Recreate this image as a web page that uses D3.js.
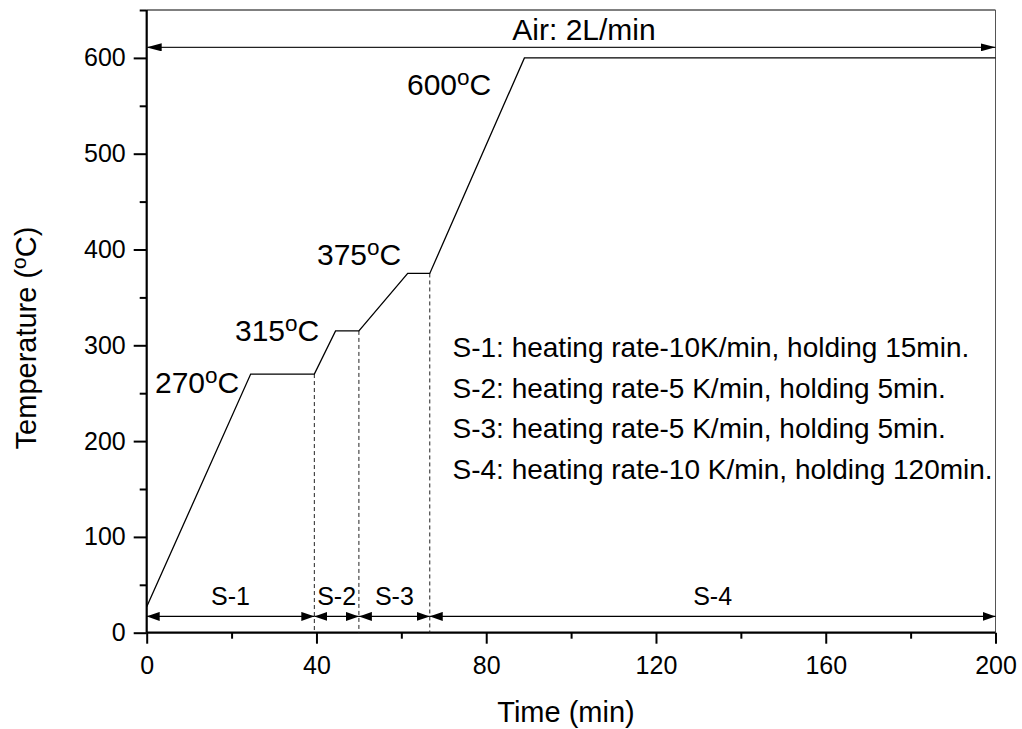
<!DOCTYPE html>
<html>
<head>
<meta charset="utf-8">
<script src="https://cdn.jsdelivr.net/npm/d3@7"></script>
<style>
  html, body { margin: 0; padding: 0; background: #fff; }
  svg { display: block; font-family: "Liberation Sans", Arial, sans-serif; }
</style>
</head>
<body>
<svg id="chart" width="1022" height="729"></svg>
<script>
// Heating programme: time (min) vs furnace temperature (°C)
const timeMin = [0, 24.5, 39.5, 44.5, 50, 61.5, 66.7, 89, 200];
const tempC   = [27, 270, 270, 315, 315, 375, 375, 600, 600];

// Stage boundaries (min) and names
const stageEdges = [0, 39.5, 50, 66.7, 200];
const stageNames = ["S-1", "S-2", "S-3", "S-4"];
const stageArrowTemp = 17;

// Dashed markers at the end of each hold
const holdEnds = [39.5, 50, 66.7];
const holdTemps = [270, 315, 375];

// Plateau labels
const plateauLabels = ["270", "315", "375", "600"];
const plateauLabelX = [155, 235, 317, 407];
const plateauLabelY = [393, 341, 265, 95];

// Gas-flow annotation
const airText = "Air: 2L/min";
const airTemp = 611;

// Stage descriptions
const stageNotes = [
  "S-1: heating rate-10K/min, holding 15min.",
  "S-2: heating rate-5 K/min, holding 5min.",
  "S-3: heating rate-5 K/min, holding 5min.",
  "S-4: heating rate-10 K/min, holding 120min."
];

const xTicks = [0, 40, 80, 120, 160, 200];
const xMinor = [20, 60, 100, 140, 180];
const yTicks = [0, 100, 200, 300, 400, 500, 600];
const yMinor = [50, 150, 250, 350, 450, 550, 650];

const svg = d3.select("#chart");
const x = d3.scaleLinear().domain([0, 200]).range([146.7, 995.5]);
const y = d3.scaleLinear().domain([0, 650]).range([632.7, 10]);

// Arrowhead markers
const defs = svg.append("defs");
function addMarker(id, len, half) {
  defs.append("marker")
    .attr("id", id)
    .attr("markerUnits", "userSpaceOnUse")
    .attr("viewBox", `0 ${-half} ${len} ${2 * half}`)
    .attr("refX", len).attr("refY", 0)
    .attr("markerWidth", len).attr("markerHeight", 2 * half)
    .attr("orient", "auto-start-reverse")
    .append("path")
    .attr("d", `M0,${-half}L${len},0L0,${half}Z`)
    .attr("fill", "#000");
}
addMarker("headSmall", 13, 4.5);
addMarker("headBig", 15, 4);

// Frame (top and right)
svg.append("line")
  .attr("x1", x(0)).attr("x2", x(200)).attr("y1", y(650)).attr("y2", y(650))
  .attr("stroke", "#000").attr("stroke-width", 1);
svg.append("line")
  .attr("x1", x(200)).attr("x2", x(200)).attr("y1", y(650)).attr("y2", y(0))
  .attr("stroke", "#555").attr("stroke-width", 1);

// Axes
const axisFont = 25;
const gx = svg.append("g").attr("transform", `translate(0,${y(0)})`)
  .call(d3.axisBottom(x).tickValues(xTicks).tickSize(11).tickPadding(13).tickFormat(d3.format("d")));
svg.append("g").attr("transform", `translate(0,${y(0)})`)
  .call(d3.axisBottom(x).tickValues(xMinor).tickSize(6).tickFormat(""))
  .call(g => g.select(".domain").remove());
const gy = svg.append("g").attr("transform", `translate(${x(0)},0)`)
  .call(d3.axisLeft(y).tickValues(yTicks).tickSize(13).tickPadding(8).tickFormat(d3.format("d")));
svg.append("g").attr("transform", `translate(${x(0)},0)`)
  .call(d3.axisLeft(y).tickValues(yMinor).tickSize(7).tickFormat(""))
  .call(g => g.select(".domain").remove());

svg.selectAll(".domain").attr("stroke", "#000").attr("stroke-width", 2.2);
svg.selectAll(".tick line").attr("stroke", "#000").attr("stroke-width", 2);
svg.selectAll(".tick text")
  .attr("font-family", "'Liberation Sans', Arial, sans-serif")
  .attr("font-size", axisFont).attr("fill", "#000");
gx.selectAll(".domain").attr("d", `M${x(0)},0H${x(200)}`);
gy.selectAll(".domain").attr("d", `M0,${y(0)}V${y(650)}`);

// Dashed hold-end markers
svg.append("g").selectAll("line").data(holdEnds).join("line")
  .attr("x1", d => x(d)).attr("x2", d => x(d))
  .attr("y1", (d, i) => y(holdTemps[i])).attr("y2", y(0))
  .attr("stroke", "#222").attr("stroke-width", 1)
  .attr("stroke-dasharray", "4,3");

// Temperature profile
const pts = timeMin.map((t, i) => [t, tempC[i]]);
svg.append("path")
  .datum(pts)
  .attr("d", d3.line().x(d => x(d[0])).y(d => y(d[1])))
  .attr("fill", "none").attr("stroke", "#000").attr("stroke-width", 1.3);

// Stage arrows
const stages = stageNames.map((n, i) => ({ name: n, a: stageEdges[i], b: stageEdges[i + 1] }));
svg.append("g").selectAll("line").data(stages).join("line")
  .attr("x1", d => x(d.a)).attr("x2", d => x(d.b))
  .attr("y1", y(stageArrowTemp)).attr("y2", y(stageArrowTemp))
  .attr("stroke", "#000").attr("stroke-width", 1.2)
  .attr("marker-start", "url(#headSmall)").attr("marker-end", "url(#headSmall)");
svg.append("g").selectAll("text").data(stages).join("text")
  .attr("x", d => x((d.a + d.b) / 2)).attr("y", 605)
  .attr("text-anchor", "middle").attr("font-size", 25).attr("fill", "#000")
  .text(d => d.name);

// Gas-flow arrow
svg.append("line")
  .attr("x1", x(0)).attr("x2", x(200)).attr("y1", y(airTemp)).attr("y2", y(airTemp))
  .attr("stroke", "#222").attr("stroke-width", 1.3)
  .attr("marker-start", "url(#headBig)").attr("marker-end", "url(#headBig)");
svg.append("text")
  .attr("x", 584).attr("y", 40).attr("text-anchor", "middle")
  .attr("font-size", 30).attr("fill", "#000").text(airText);

// Plateau temperature labels with superscript "o"
function degreeLabel(sel, num, size) {
  sel.append("tspan").text(num);
  sel.append("tspan").attr("font-size", size * 0.75).attr("dy", -size * 0.35).text("o");
  sel.append("tspan").attr("dy", size * 0.35).text("C");
}
plateauLabels.forEach((lab, i) => {
  const t = svg.append("text")
    .attr("x", plateauLabelX[i]).attr("y", plateauLabelY[i])
    .attr("font-size", 30).attr("fill", "#000");
  degreeLabel(t, lab, 30);
});

// Stage descriptions
const notes = svg.append("text").attr("font-size", 28).attr("fill", "#000");
stageNotes.forEach((s, i) => {
  notes.append("tspan").attr("x", 452.5).attr("y", 357 + i * 40.5).text(s);
});

// Axis titles
svg.append("text")
  .attr("x", 566).attr("y", 722).attr("text-anchor", "middle")
  .attr("font-size", 29).attr("fill", "#000").text("Time (min)");
const yt = svg.append("text")
  .attr("transform", "translate(36,338) rotate(-90)")
  .attr("text-anchor", "middle").attr("font-size", 29).attr("fill", "#000");
yt.append("tspan").text("Temperature (");
yt.append("tspan").attr("font-size", 21).attr("dy", -10).text("o");
yt.append("tspan").attr("dy", 10).text("C)");
</script>
</body>
</html>
